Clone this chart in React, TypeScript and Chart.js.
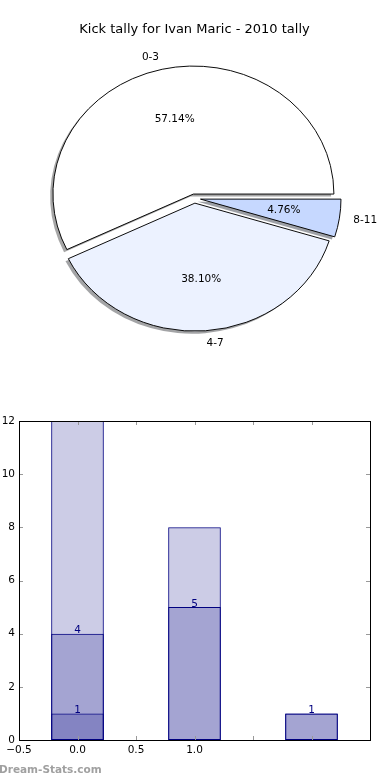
import React, { useEffect, useRef } from "react";
import { Chart, registerables } from "chart.js";

Chart.register(...registerables);

// ---- data ----
const chartTitle = "Kick tally for Ivan Maric - 2010 tally";
const pieLabels = ["0-3", "4-7", "8-11"];
const pieValues = [12, 8, 1];
const pieColors = ["#ffffff", "#ecf2ff", "#c6d8ff"];
const pieExplode = [0.034, 0.038, 0.043];

const barPositions = [0, 1, 2];
const barTotals = [12, 8, 1];
const barMid = [4, 5, 1];
const barLow = [1, 0, 0];
const xTickLabels = ["\u22120.5", "0.0", "0.5", "1.0"];
const watermark = "Dream-Stats.com";

// ---- style ----
const FONT = "'DejaVu Sans', sans-serif";
const PIE_R = 140.5;
const ELLIPSE_K = 128 / 140.5;

function shadowOf(hex: string) {
  const h = hex.replace("#", "");
  const r = parseInt(h.slice(0, 2), 16);
  const g = parseInt(h.slice(2, 4), 16);
  const b = parseInt(h.slice(4, 6), 16);
  return `rgba(${Math.round(r * 0.3)},${Math.round(g * 0.3)},${Math.round(b * 0.3)},0.5)`;
}

const piePlugin = {
  id: "pieFx",
  afterDatasetsUpdate(chart: any) {
    const meta = chart.getDatasetMeta(0);
    const ex = chart.data.datasets[0].explode;
    meta.data.forEach((arc: any, i: number) => {
      const mid = (arc.startAngle + arc.endAngle) / 2;
      const d = ex[i] * arc.outerRadius;
      arc.x += Math.cos(mid) * d;
      arc.y += Math.sin(mid) * d;
    });
  },
  beforeDatasetsDraw(chart: any) {
    const { ctx, chartArea } = chart;
    const cy = (chartArea.top + chartArea.bottom) / 2;
    ctx.save();
    ctx.translate(0, cy);
    ctx.scale(1, ELLIPSE_K);
    ctx.translate(0, -cy);
    const meta = chart.getDatasetMeta(0);
    const colors = chart.data.datasets[0].backgroundColor;
    meta.data.forEach((arc: any, i: number) => {
      const r = arc.outerRadius;
      const sx = arc.x - 0.02 * r;
      const sy = arc.y + 0.02 * r;
      ctx.beginPath();
      ctx.moveTo(sx, sy);
      ctx.arc(sx, sy, r, arc.startAngle, arc.endAngle);
      ctx.closePath();
      ctx.fillStyle = shadowOf(colors[i]);
      ctx.fill();
    });
  },
  afterDatasetsDraw(chart: any) {
    const { ctx, chartArea } = chart;
    ctx.restore();
    const cy = (chartArea.top + chartArea.bottom) / 2;
    const meta = chart.getDatasetMeta(0);
    const ds = chart.data.datasets[0];
    const total = ds.data.reduce((a: number, b: number) => a + b, 0);
    ctx.save();
    ctx.fillStyle = "#000";
    ctx.font = `10.5px ${FONT}`;
    ctx.textBaseline = "middle";
    meta.data.forEach((arc: any, i: number) => {
      const mid = (arc.startAngle + arc.endAngle) / 2;
      const c = Math.cos(mid);
      const s = Math.sin(mid);
      const r = arc.outerRadius;
      const lx = arc.x + 1.1 * r * c;
      const ly = cy + (arc.y + 1.1 * r * s - cy) * ELLIPSE_K;
      ctx.textAlign = c > 0 ? "left" : "right";
      ctx.fillText(chart.data.labels[i], lx, ly);
      const px = arc.x + 0.6 * r * c;
      const py = cy + (arc.y + 0.6 * r * s - cy) * ELLIPSE_K;
      ctx.textAlign = "center";
      ctx.fillText(((ds.data[i] / total) * 100).toFixed(2) + "%", px, py);
    });
    ctx.restore();
  },
};

const barPlugin = {
  id: "barFx",
  afterDatasetsDraw(chart: any) {
    const { ctx, chartArea: a, scales } = chart;
    ctx.save();
    // value annotations
    ctx.font = `10.5px ${FONT}`;
    ctx.fillStyle = "#000080";
    ctx.textAlign = "center";
    ctx.textBaseline = "alphabetic";
    chart.data.datasets.forEach((ds: any, di: number) => {
      if (!ds.annotate) return;
      chart.getDatasetMeta(di).data.forEach((el: any, j: number) => {
        const v = ds.data[j].y;
        if (!v) return;
        ctx.fillText(String(v), el.x, el.y - 0.5);
      });
    });
    // inward ticks
    ctx.strokeStyle = "#999";
    ctx.lineWidth = 1;
    ctx.beginPath();
    scales.x.ticks.forEach((t: any) => {
      const px = Math.round(scales.x.getPixelForValue(t.value)) + 0.5;
      ctx.moveTo(px, a.bottom);
      ctx.lineTo(px, a.bottom - 4);
      ctx.moveTo(px, a.top);
      ctx.lineTo(px, a.top + 4);
    });
    scales.y.ticks.forEach((t: any) => {
      const py = Math.round(scales.y.getPixelForValue(t.value)) + 0.5;
      ctx.moveTo(a.left, py);
      ctx.lineTo(a.left + 4, py);
      ctx.moveTo(a.right, py);
      ctx.lineTo(a.right - 4, py);
    });
    ctx.stroke();
    // frame
    ctx.strokeStyle = "#000";
    ctx.strokeRect(
      Math.round(a.left) + 0.5,
      Math.round(a.top) + 0.5,
      Math.round(a.right) - Math.round(a.left),
      Math.round(a.bottom) - Math.round(a.top)
    );
    ctx.restore();
  },
  afterDraw(chart: any) {
    const { ctx } = chart;
    ctx.save();
    ctx.font = `bold 10.5px ${FONT}`;
    ctx.fillStyle = "#a0a0a0";
    ctx.textAlign = "left";
    ctx.textBaseline = "alphabetic";
    ctx.fillText(watermark, -1, 373);
    ctx.restore();
  },
};

export default function App() {
  const pieRef = useRef<HTMLCanvasElement>(null);
  const barRef = useRef<HTMLCanvasElement>(null);

  useEffect(() => {
    // Chart.js draws clockwise from east; matplotlib counter-clockwise -> reverse order
    const idx = pieLabels.map((_, i) => i).reverse();
    const pie = new Chart(pieRef.current as HTMLCanvasElement, {
      type: "pie",
      data: {
        labels: idx.map((i) => pieLabels[i]),
        datasets: [
          {
            data: idx.map((i) => pieValues[i]),
            backgroundColor: idx.map((i) => pieColors[i]),
            explode: idx.map((i) => pieExplode[i]),
            borderColor: "#000",
            borderWidth: 1,
            borderJoinStyle: "miter",
            hoverOffset: 0,
          } as any,
        ],
      },
      options: {
        responsive: false,
        animation: false,
        events: [],
        rotation: 90,
        radius: PIE_R,
        layout: { padding: { left: 0, right: 1, top: 0, bottom: 41 } },
        plugins: {
          legend: { display: false },
          tooltip: { enabled: false },
          title: {
            display: true,
            text: chartTitle,
            color: "#000",
            font: { family: FONT, size: 13, weight: "normal" },
            padding: { top: 22, bottom: 0 },
          },
        },
      } as any,
      plugins: [piePlugin as any],
    });

    const mk = (vals: number[]) =>
      barPositions.map((x, j) => ({ x, y: vals[j] ? vals[j] : null }));
    const barStyle = {
      grouped: false,
      backgroundColor: "rgba(0,0,128,0.2)",
      borderColor: "#000080",
      borderWidth: 1,
      borderSkipped: false,
      categoryPercentage: 0.9,
      barPercentage: 1,
    };
    const bar = new Chart(barRef.current as HTMLCanvasElement, {
      type: "bar",
      data: {
        datasets: [
          { ...barStyle, data: mk(barTotals), annotate: false },
          { ...barStyle, data: mk(barMid), annotate: true },
          { ...barStyle, data: mk(barLow), annotate: true },
        ] as any,
      },
      options: {
        responsive: false,
        animation: false,
        events: [],
        layout: { padding: { top: 21, right: 20, left: 0, bottom: 0 } },
        plugins: { legend: { display: false }, tooltip: { enabled: false } },
        scales: {
          x: {
            type: "linear",
            min: -0.5,
            max: 2.5,
            offset: false,
            grid: { display: false, drawTicks: false },
            border: { display: false },
            ticks: {
              stepSize: 0.5,
              autoSkip: false,
              maxRotation: 0,
              padding: 4,
              color: "#000",
              font: { family: FONT, size: 10.5 },
              callback: (_v: any, i: number) => xTickLabels[i] ?? "",
            },
            afterFit: (s: any) => {
              s.height = 40;
            },
          },
          y: {
            min: 0,
            max: 12,
            grid: { display: false, drawTicks: false },
            border: { display: false },
            ticks: {
              stepSize: 2,
              padding: 4,
              color: "#000",
              font: { family: FONT, size: 10.5 },
            },
            afterFit: (s: any) => {
              s.width = 19;
            },
          },
        },
      } as any,
      plugins: [barPlugin as any],
    });

    return () => {
      pie.destroy();
      bar.destroy();
    };
  }, []);

  return (
    <div
      style={{
        position: "absolute",
        left: 0,
        top: 0,
        width: 390,
        height: 780,
        background: "#fff",
        overflow: "hidden",
      }}
    >
      <canvas
        ref={pieRef}
        width={390}
        height={400}
        style={{ position: "absolute", left: 0, top: 0, width: 390, height: 400 }}
      />
      <canvas
        ref={barRef}
        width={390}
        height={380}
        style={{ position: "absolute", left: 0, top: 400, width: 390, height: 380 }}
      />
    </div>
  );
}
